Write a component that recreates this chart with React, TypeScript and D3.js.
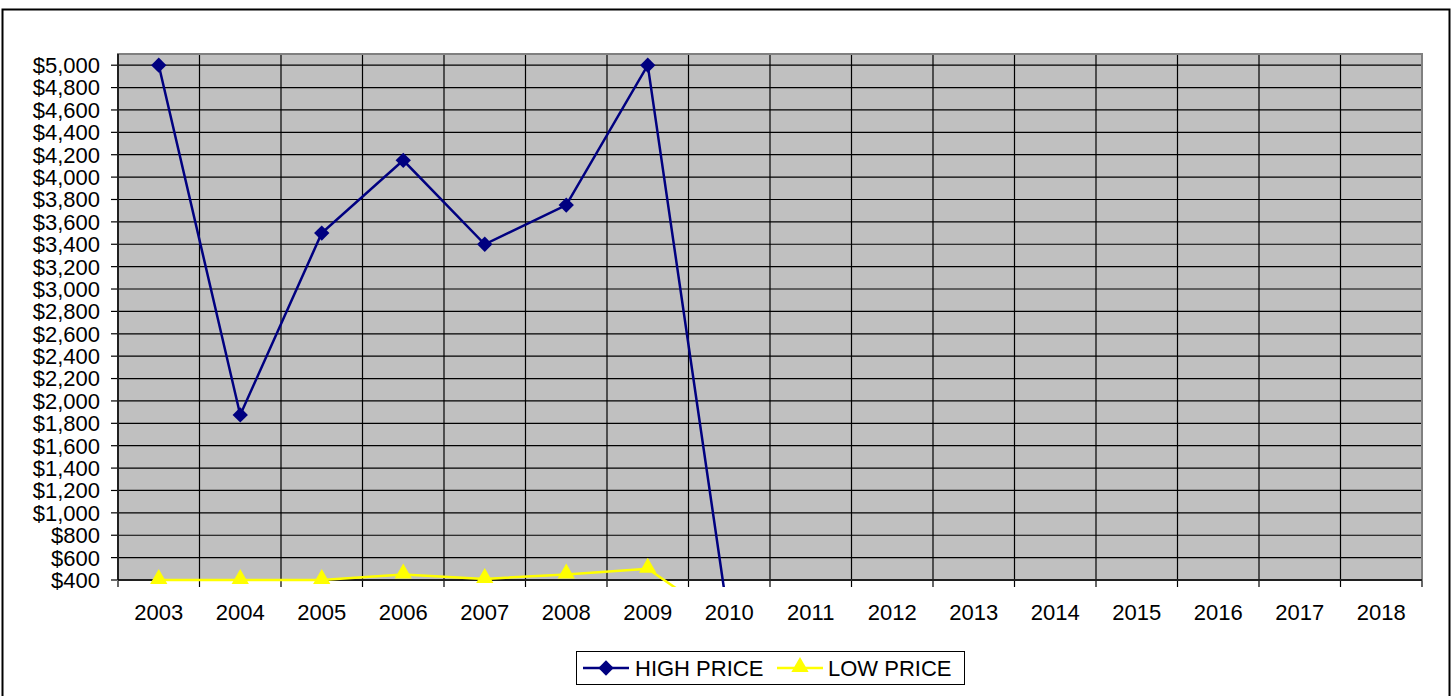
import React from 'react';
import * as d3 from 'd3';

const years = ['2003', '2004', '2005', '2006', '2007', '2008', '2009', '2010', '2011', '2012', '2013', '2014', '2015', '2016', '2017', '2018'];
const highPrice = [5000, 1875, 3500, 4150, 3400, 3750, 5000, 0];
const lowPrice = [400, 400, 400, 450, 410, 450, 500, 0];
const yTicks = d3.range(400, 5001, 200);

const width = 1456;
const height = 696;
const plot = { left: 118, right: 1422, top: 54, bottom: 580 };
const font = '"Liberation Sans", Arial, sans-serif';
const fontSize = 22;

const diamond = d3.symbol().type(d3.symbolDiamond2).size(150);
const triangle = d3.symbol().type(d3.symbolTriangle).size(130);

export default function App() {
  const x = d3.scaleBand<string>().domain(years).range([plot.left, plot.right]);
  const y = d3.scaleLinear().domain([400, 5100]).range([plot.bottom, plot.top]);
  const cx = (i: number) => (x(years[i]) as number) + x.bandwidth() / 2;

  const line = d3.line<number>().x((d, i) => cx(i)).y(d => y(d));

  return (
    <svg width={width} height={height} style={{ position: 'absolute', left: 0, top: 0 }} fontFamily={font}>
      <rect x={0} y={0} width={width} height={height} fill="#fff" />
      <rect x={2.5} y={9.5} width={1447} height={700} fill="#fff" stroke="#000" strokeWidth={2} />
      <defs>
        <clipPath id="plotclip">
          <rect x={plot.left} y={plot.top - 8} width={plot.right - plot.left} height={plot.bottom - plot.top + 15} />
        </clipPath>
      </defs>
      <rect x={plot.left} y={plot.top} width={plot.right - plot.left} height={plot.bottom - plot.top} fill="#C0C0C0" />
      {yTicks.map(t => (
        <g key={t}>
          <line x1={plot.left} x2={plot.right} y1={y(t)} y2={y(t)} stroke="#000" strokeWidth={1.2} />
          <line x1={plot.left - 7} x2={plot.left} y1={y(t)} y2={y(t)} stroke="#000" strokeWidth={1.2} />
          <text x={100} y={y(t)} dy="0.36em" textAnchor="end" fontSize={fontSize} fill="#000">
            {d3.format('$,')(t)}
          </text>
        </g>
      ))}
      {years.map((yr, i) => (
        <g key={yr}>
          {i > 0 && (
            <line x1={x(yr)} x2={x(yr)} y1={plot.top} y2={plot.bottom} stroke="#000" strokeWidth={1.2} />
          )}
          <line x1={x(yr)} x2={x(yr)} y1={plot.bottom} y2={plot.bottom + 7} stroke="#000" strokeWidth={1.2} />
          <text x={cx(i)} y={620} textAnchor="middle" fontSize={fontSize} fill="#000">{yr}</text>
        </g>
      ))}
      <line x1={plot.right} x2={plot.right} y1={plot.bottom} y2={plot.bottom + 7} stroke="#000" strokeWidth={1.2} />
      <rect x={plot.left} y={plot.top} width={plot.right - plot.left} height={plot.bottom - plot.top} fill="none" stroke="#808080" strokeWidth={2} />
      <line x1={plot.left} x2={plot.right} y1={plot.bottom} y2={plot.bottom} stroke="#000" strokeWidth={1.5} />
      <line x1={plot.left} x2={plot.left} y1={plot.top} y2={plot.bottom} stroke="#000" strokeWidth={1.5} />

      <g clipPath="url(#plotclip)">
        <path d={line(lowPrice) as string} fill="none" stroke="#FFFF00" strokeWidth={2.5} />
        {lowPrice.map((v, i) => (
          <path key={i} d={triangle() as string} transform={`translate(${cx(i)},${y(v) - 1})`} fill="#FFFF00" />
        ))}
        <path d={line(highPrice) as string} fill="none" stroke="#000080" strokeWidth={2.5} />
        {highPrice.map((v, i) => (
          <path key={i} d={diamond() as string} transform={`translate(${cx(i)},${y(v)})`} fill="#000080" />
        ))}
      </g>

      <g>
        <rect x={576.5} y={651.5} width={388} height={33} fill="#fff" stroke="#000" strokeWidth={1} />
        <line x1={583} x2={629} y1={668} y2={668} stroke="#000080" strokeWidth={2.5} />
        <path d={diamond() as string} transform="translate(606,668)" fill="#000080" />
        <text x={635} y={676} fontSize={fontSize} fill="#000">HIGH PRICE</text>
        <line x1={777} x2={823} y1={668} y2={668} stroke="#FFFF00" strokeWidth={2.5} />
        <path d={triangle() as string} transform="translate(800,667)" fill="#FFFF00" />
        <text x={828} y={676} fontSize={fontSize} fill="#000">LOW PRICE</text>
      </g>
    </svg>
  );
}
